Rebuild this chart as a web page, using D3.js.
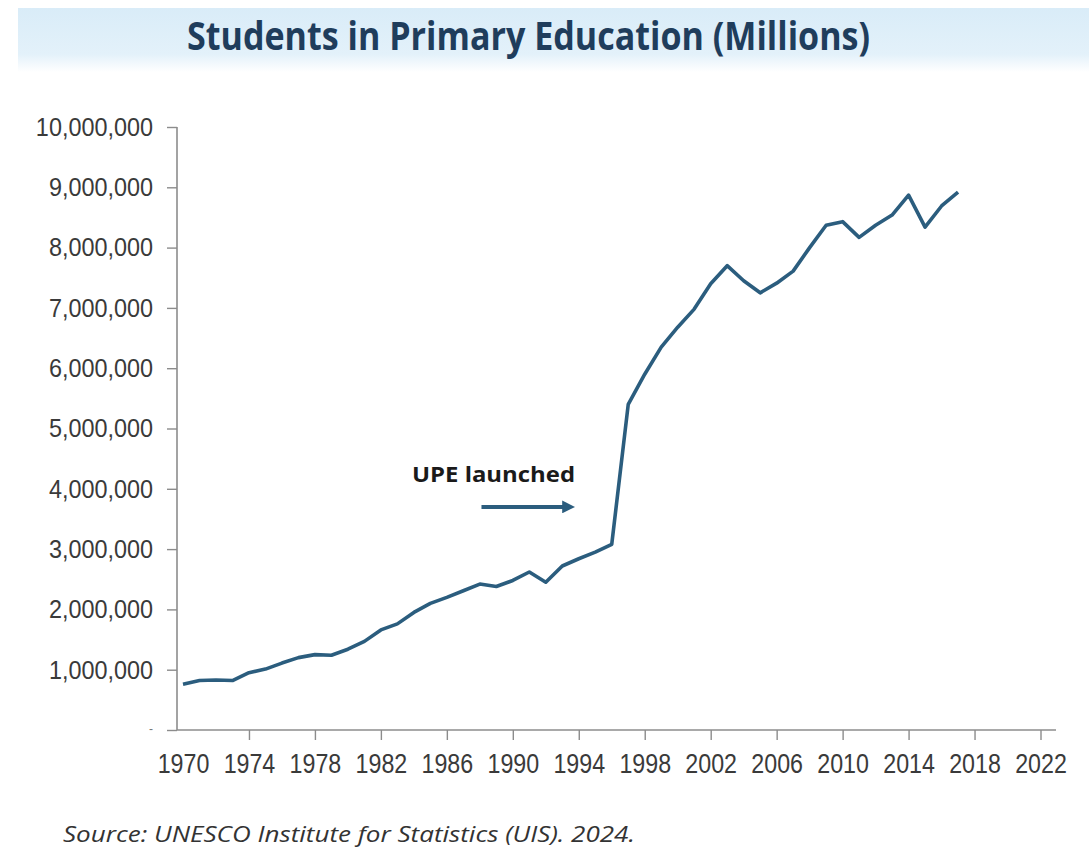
<!DOCTYPE html>
<html>
<head>
<meta charset="utf-8">
<script src="https://cdn.jsdelivr.net/npm/d3@7"></script>
<style>
  html, body { margin: 0; padding: 0; background: #ffffff; }
  svg { display: block; }
</style>
</head>
<body>
<div id="chart"></div>
<script>
// ---- Data ----
const years = [1970,1971,1972,1973,1974,1975,1976,1977,1978,1979,
               1980,1981,1982,1983,1984,1985,1986,1987,1988,1989,
               1990,1991,1992,1993,1994,1995,1996,1997,1998,1999,
               2000,2001,2002,2003,2004,2005,2006,2007,2008,2009,
               2010,2011,2012,2013,2014,2015,2016,2017];
const students = [760000,820000,830000,820000,950000,1010000,1110000,1200000,1250000,1240000,
                  1340000,1470000,1660000,1760000,1950000,2100000,2200000,2310000,2420000,2380000,
                  2480000,2620000,2450000,2720000,2840000,2950000,3080000,5400000,5900000,6350000,
                  6680000,6980000,7400000,7700000,7450000,7250000,7410000,7610000,8000000,8370000,
                  8430000,8170000,8370000,8540000,8870000,8340000,8690000,8920000];
const yTicks = [0,1000000,2000000,3000000,4000000,5000000,6000000,7000000,8000000,9000000,10000000];
const xTicks = [1970,1974,1978,1982,1986,1990,1994,1998,2002,2006,2010,2014,2018,2022];
const titleText = "Students in Primary Education (Millions)";
const annotationText = "UPE launched";
const annotationFrom = 1988.1, annotationTo = 1994.0, annotationValue = 3700000;
const sourceText = "Source: UNESCO Institute for Statistics (UIS). 2024.";

// ---- Layout ----
const W = 1089, H = 849;
const svg = d3.select("#chart").append("svg").attr("width", W).attr("height", H);

const defs = svg.append("defs");
const grad = defs.append("linearGradient").attr("id", "band").attr("x1", 0).attr("y1", 0).attr("x2", 0).attr("y2", 1);
grad.append("stop").attr("offset", "0%").attr("stop-color", "#d9ecf8");
grad.append("stop").attr("offset", "72%").attr("stop-color", "#e3f1fa");
grad.append("stop").attr("offset", "100%").attr("stop-color", "#ffffff");

svg.append("rect").attr("x", 18).attr("y", 8).attr("width", W - 18).attr("height", 64)
   .attr("fill", "url(#band)");

svg.append("text")
  .attr("x", 187).attr("y", 50)
  .attr("font-family", "'Open Sans', 'DejaVu Sans', sans-serif")
  .attr("font-weight", 700).attr("font-size", 39)
  .attr("fill", "#1f3d5c")
  .attr("textLength", 683).attr("lengthAdjust", "spacingAndGlyphs")
  .text(titleText);

// Scales
const x = d3.scaleLinear().domain([1970, 2022]).range([183, 1040.5]);
const y = d3.scaleLinear().domain([0, 10000000]).range([730, 127]);

const axisColor = "#8c8c8c";
const labelColor = "#3a3a3a";
const labelFont = "'Liberation Sans', Arial, sans-serif";

// Y axis
const yAxis = d3.axisLeft(y).tickValues(yTicks).tickSize(10).tickPadding(14)
  .tickFormat(d => d === 0 ? "-" : d3.format(",")(d));
const gy = svg.append("g").attr("transform", `translate(177,0)`).call(yAxis);
gy.select(".domain").attr("stroke", axisColor).attr("stroke-width", 1.6)
  .attr("d", `M0,${y(10000000)}V${y(0)}`);
gy.selectAll(".tick line").attr("stroke", axisColor).attr("stroke-width", 1.4);
gy.selectAll(".tick text").attr("fill", labelColor).attr("font-family", labelFont)
  .attr("font-size", 26);
gy.selectAll(".tick text").filter(d => d === 0).attr("font-size", 12).attr("fill", "#777").attr("dy", "0.2em");

// X axis
const xAxis = d3.axisBottom(x).tickValues(xTicks).tickSize(10).tickPadding(14).tickFormat(d3.format("d"));
const gx = svg.append("g").attr("transform", `translate(0,730)`).call(xAxis);
gx.select(".domain").attr("stroke", axisColor).attr("stroke-width", 1.6)
  .attr("d", `M177,0H1056`);
gx.selectAll(".tick line").attr("stroke", axisColor).attr("stroke-width", 1.4)
  .attr("y1", 0).attr("y2", 10);
gx.selectAll(".tick").filter(d => d === 1970).select("line").remove();
gx.selectAll(".tick text").attr("fill", labelColor).attr("font-family", labelFont)
  .attr("font-size", 27).attr("dy", "0.71em");

// condense axis labels
function condense(sel, f) {
  sel.each(function() {
    const len = this.getComputedTextLength();
    d3.select(this).attr("textLength", len * f).attr("lengthAdjust", "spacingAndGlyphs");
  });
}
condense(gy.selectAll(".tick text").filter(d => d !== 0), 0.9);
condense(gx.selectAll(".tick text"), 0.86);

// Line
const line = d3.line().x((d, i) => x(years[i])).y(d => y(d));
svg.append("path").datum(students)
  .attr("d", line)
  .attr("fill", "none")
  .attr("stroke", "#2b5d7e")
  .attr("stroke-width", 3.6)
  .attr("stroke-linejoin", "round");

// Annotation
svg.append("text")
  .attr("x", 412).attr("y", 482)
  .attr("font-family", "'Open Sans', 'DejaVu Sans', sans-serif")
  .attr("font-weight", 700).attr("font-size", 22)
  .attr("fill", "#1a1a1a")
  .attr("textLength", 163).attr("lengthAdjust", "spacingAndGlyphs")
  .text(annotationText);

defs.append("marker").attr("id", "arrow")
  .attr("viewBox", "0 0 10 10").attr("refX", 2).attr("refY", 5)
  .attr("markerWidth", 3.2).attr("markerHeight", 3.2).attr("orient", "auto")
  .append("path").attr("d", "M0,0L10,5L0,10Z").attr("fill", "#2b5d7e");

svg.append("line")
  .attr("x1", x(annotationFrom)).attr("x2", x(annotationTo) - 14)
  .attr("y1", y(annotationValue)).attr("y2", y(annotationValue))
  .attr("stroke", "#2b5d7e").attr("stroke-width", 4)
  .attr("marker-end", "url(#arrow)");

// Source
svg.append("text")
  .attr("x", 63).attr("y", 842)
  .attr("font-family", "'Open Sans', 'DejaVu Sans', sans-serif")
  .attr("font-style", "italic").attr("font-size", 22)
  .attr("fill", "#333333")
  .attr("textLength", 572).attr("lengthAdjust", "spacingAndGlyphs")
  .text(sourceText);
</script>
</body>
</html>
